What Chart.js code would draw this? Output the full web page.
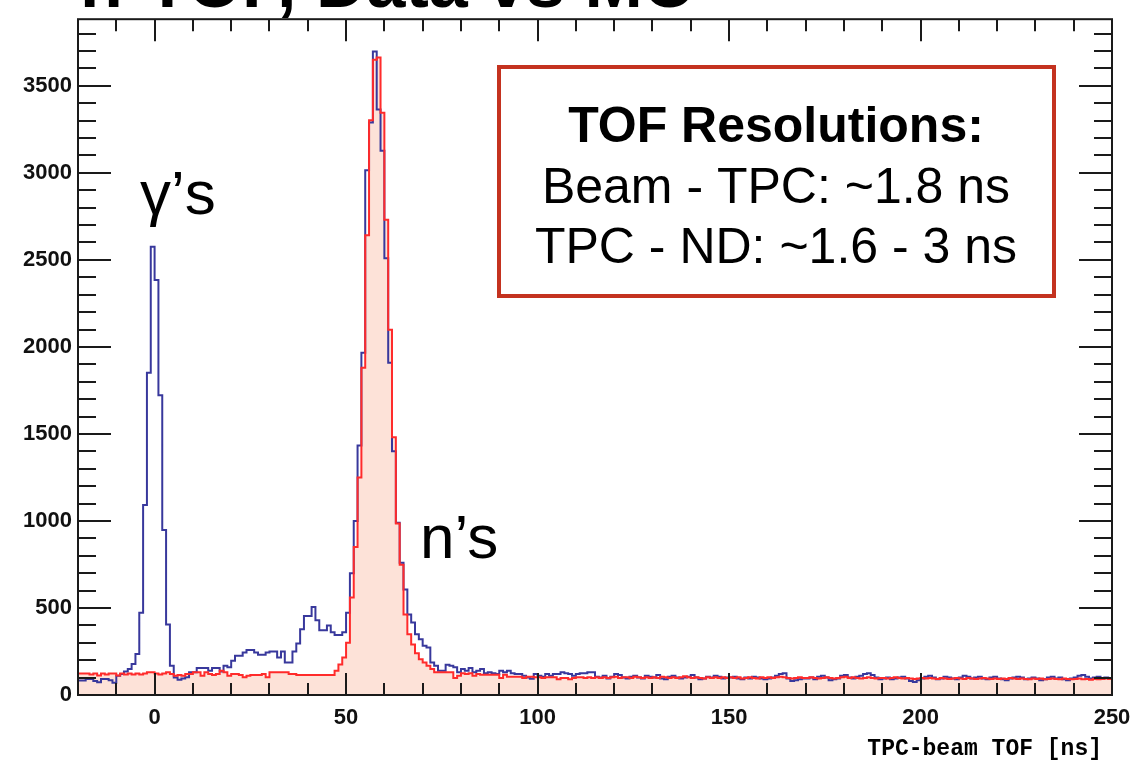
<!DOCTYPE html>
<html>
<head>
<meta charset="utf-8">
<script src="https://cdn.jsdelivr.net/npm/chart.js@4"></script>
<style>
  body { margin: 0; background: #fff; }
  #wrap { position: relative; width: 1145px; height: 765px; overflow: hidden; }
</style>
</head>
<body>
<div id="wrap"><canvas id="tofChart" width="1145" height="765"></canvas></div>
<script>
// histogram binning: 1 ns bins starting at -20 ns
const binStart = -20;
const binWidth = 1;

const xTicks = [0, 50, 100, 150, 200, 250];
const yTicks = [0, 500, 1000, 1500, 2000, 2500, 3000, 3500];

// data (blue), counts per bin from -20 ns to 250 ns
const dataCounts = [
    83, 83, 92, 92, 80, 73, 92, 92, 85, 70,
    111, 121, 135, 150, 178, 235, 473, 1091, 1852, 2575,
    2385, 1723, 948, 405, 168, 100, 87, 95, 102, 130,
    130, 155, 155, 155, 140, 155, 155, 135, 168, 160,
    197, 225, 225, 244, 258, 258, 244, 231, 231, 244,
    250, 250, 215, 250, 187, 187, 250, 296, 378, 454,
    454, 505, 429, 372, 372, 400, 360, 345, 345, 360,
    473, 700, 1000, 1434, 1966, 3015, 3290, 3698, 3364, 3127,
    2509, 1909, 1400, 990, 760, 606, 463, 416, 349, 321,
    283, 273, 187, 168, 140, 140, 174, 168, 160, 130,
    150, 140, 155, 130, 140, 150, 125, 130, 125, 120,
    140, 130, 140, 125, 120, 120, 110, 100, 93, 120,
    110, 105, 120, 110, 120, 120, 130, 125, 120, 110,
    120, 125, 125, 130, 130, 105, 100, 110, 95, 105,
    120, 115, 100, 95, 105, 110, 100, 95, 110, 105,
    100, 115, 95, 90, 105, 110, 100, 95, 100, 105,
    115, 100, 90, 95, 105, 100, 110, 105, 95, 100,
    100, 105, 95, 90, 100, 95, 105, 100, 95, 90,
    95, 100, 110, 120, 125, 95, 80, 85, 90, 95,
    95, 100, 90, 105, 110, 100, 85, 90, 95, 110,
    115, 100, 95, 105, 110, 120, 125, 115, 100, 90,
    95, 100, 90, 95, 100, 105, 95, 80, 75, 85,
    95, 105, 110, 100, 90, 95, 105, 100, 95, 90,
    100, 110, 105, 95, 100, 105, 95, 90, 100, 105,
    95, 90, 85, 95, 100, 105, 100, 90, 95, 100,
    95, 85, 90, 100, 105, 95, 100, 90, 85, 95,
    100, 110, 115, 105, 95, 100, 105, 95, 100, 95
];

// MC (red, filled)
const mcCounts = [
    124, 124, 124, 118, 124, 112, 124, 118, 124, 124,
    112, 124, 118, 124, 118, 124, 118, 124, 130, 130,
    124, 118, 124, 130, 121, 111, 115, 111, 121, 121,
    130, 130, 111, 130, 121, 115, 121, 140, 130, 111,
    121, 121, 115, 102, 111, 115, 115, 115, 121, 102,
    130, 130, 130, 130, 130, 121, 121, 115, 115, 115,
    115, 115, 115, 115, 115, 115, 115, 140, 175, 216,
    300, 560, 850, 1250, 1880, 2642, 3302, 3650, 3663, 3346,
    2731, 2099, 1481, 986, 749, 463, 349, 290, 240, 205,
    187, 168, 149, 130, 130, 130, 130, 130, 98, 111,
    125, 121, 125, 111, 121, 116, 116, 116, 116, 116,
    98, 116, 105, 105, 105, 105, 98, 105, 105, 102,
    102, 98, 102, 102, 102, 90, 98, 98, 90, 98,
    102, 102, 98, 102, 98, 102, 98, 102, 98, 102,
    105, 98, 102, 102, 98, 105, 102, 98, 102, 98,
    102, 98, 105, 102, 98, 102, 98, 102, 108, 102,
    98, 102, 98, 95, 102, 98, 102, 98, 102, 98,
    102, 98, 102, 95, 98, 102, 98, 95, 102, 98,
    102, 98, 102, 105, 102, 98, 95, 98, 102, 98,
    98, 102, 98, 95, 98, 102, 98, 95, 98, 102,
    105, 98, 102, 98, 95, 98, 102, 98, 95, 98,
    98, 95, 98, 102, 98, 95, 98, 95, 92, 95,
    98, 95, 98, 95, 92, 98, 95, 92, 95, 98,
    95, 92, 98, 95, 92, 95, 98, 95, 92, 95,
    92, 95, 92, 98, 95, 92, 95, 92, 90, 95,
    92, 95, 90, 92, 95, 92, 90, 95, 92, 90,
    92, 95, 90, 92, 88, 92, 90, 92, 95, 92
];

const xMin = -20, xMax = 250;
const yMax = 3883;

// one point per bin low edge, plus the last high edge
function toSteps(counts) {
    const pts = counts.map((c, i) => ({ x: binStart + i * binWidth, y: c }));
    pts.push({ x: binStart + counts.length * binWidth, y: counts[counts.length - 1] });
    return pts;
}

// ROOT-style frame with inward ticks on all four sides, plus the text
const rootStyle = {
    id: 'rootStyle',
    afterDatasetsDraw(chart) {
        const ctx = chart.ctx;
        const a = chart.chartArea;
        const xs = chart.scales.x;
        const ys = chart.scales.y;
        ctx.save();
        ctx.strokeStyle = '#1a1a1a';
        ctx.lineWidth = 2;
        ctx.beginPath();
        for (let v = -10; v <= xMax; v += 10) {
            const px = Math.round(xs.getPixelForValue(v));
            const len = v % 50 === 0 ? 22 : 12;
            ctx.moveTo(px, a.bottom); ctx.lineTo(px, a.bottom - len);
            ctx.moveTo(px, a.top); ctx.lineTo(px, a.top + len);
        }
        for (let v = 100; v < yMax; v += 100) {
            const py = Math.round(ys.getPixelForValue(v));
            const len = v % 500 === 0 ? 33 : 18;
            ctx.moveTo(a.left, py); ctx.lineTo(a.left + len, py);
            ctx.moveTo(a.right, py); ctx.lineTo(a.right - len, py);
        }
        ctx.stroke();
        ctx.strokeRect(a.left, a.top, a.right - a.left, a.bottom - a.top);
        ctx.restore();
    },
    afterDraw(chart) {
        const ctx = chart.ctx;
        const a = chart.chartArea;
        ctx.save();
        ctx.fillStyle = '#000';

        // title, mostly cut off by the top edge
        ctx.font = 'bold 70px "Liberation Sans", Arial, sans-serif';
        ctx.textAlign = 'left';
        ctx.textBaseline = 'alphabetic';
        ctx.fillText('n-TOF, Data vs MC', 80, 7);

        // axis title
        ctx.font = 'bold 23px "Liberation Mono", "Courier New", monospace';
        ctx.textAlign = 'right';
        ctx.fillText('TPC-beam TOF [ns]', a.right - 10, 755);

        // peak labels
        ctx.font = '62px "Liberation Sans", Arial, sans-serif';
        ctx.textAlign = 'left';
        ctx.fillText('\u03b3\u2019s', 140, 214);
        ctx.fillText('n\u2019s', 420, 558);

        // resolution box
        ctx.strokeStyle = '#c4321f';
        ctx.lineWidth = 4;
        ctx.strokeRect(499, 67, 555, 229);
        ctx.textAlign = 'center';
        ctx.font = 'bold 50px "Liberation Sans", Arial, sans-serif';
        ctx.fillText('TOF Resolutions:', 776, 142);
        ctx.font = '50px "Liberation Sans", Arial, sans-serif';
        ctx.fillText('Beam - TPC: ~1.8 ns', 776, 203);
        ctx.fillText('TPC - ND: ~1.6 - 3 ns', 776, 263);
        ctx.restore();
    }
};

new Chart(document.getElementById('tofChart').getContext('2d'), {
    type: 'line',
    data: {
        datasets: [
            {
                label: 'MC',
                data: toSteps(mcCounts),
                stepped: 'before',
                borderColor: '#ff2b2b',
                borderWidth: 2,
                backgroundColor: '#fde2d8',
                fill: 'origin',
                pointRadius: 0,
                order: 1
            },
            {
                label: 'Data',
                data: toSteps(dataCounts),
                stepped: 'before',
                borderColor: '#38389c',
                borderWidth: 2,
                fill: false,
                pointRadius: 0,
                order: 2
            }
        ]
    },
    options: {
        responsive: false,
        animation: false,
        layout: { padding: { left: 0, right: 33, top: 14, bottom: 0 } },
        plugins: {
            legend: { display: false },
            tooltip: { enabled: false },
            filler: { drawTime: 'beforeDatasetsDraw' }
        },
        scales: {
            x: {
                type: 'linear',
                min: xMin,
                max: xMax,
                afterBuildTicks: s => { s.ticks = xTicks.map(v => ({ value: v })); },
                afterFit: s => { s.height = 70; },
                grid: { display: false, drawTicks: false },
                border: { display: false },
                ticks: {
                    color: '#111',
                    padding: 10,
                    maxRotation: 0,
                    autoSkip: false,
                    callback: v => String(v),
                    font: { family: '"Liberation Sans", Arial, sans-serif', weight: 'bold', size: 22 }
                }
            },
            y: {
                type: 'linear',
                min: 0,
                max: yMax,
                afterBuildTicks: s => { s.ticks = yTicks.map(v => ({ value: v })); },
                afterFit: s => { s.width = 78; },
                grid: { display: false, drawTicks: false },
                border: { display: false },
                ticks: {
                    color: '#111',
                    padding: 6,
                    autoSkip: false,
                    callback: v => String(v),
                    font: { family: '"Liberation Sans", Arial, sans-serif', weight: 'bold', size: 22 }
                }
            }
        }
    },
    plugins: [rootStyle]
});
</script>
</body>
</html>
